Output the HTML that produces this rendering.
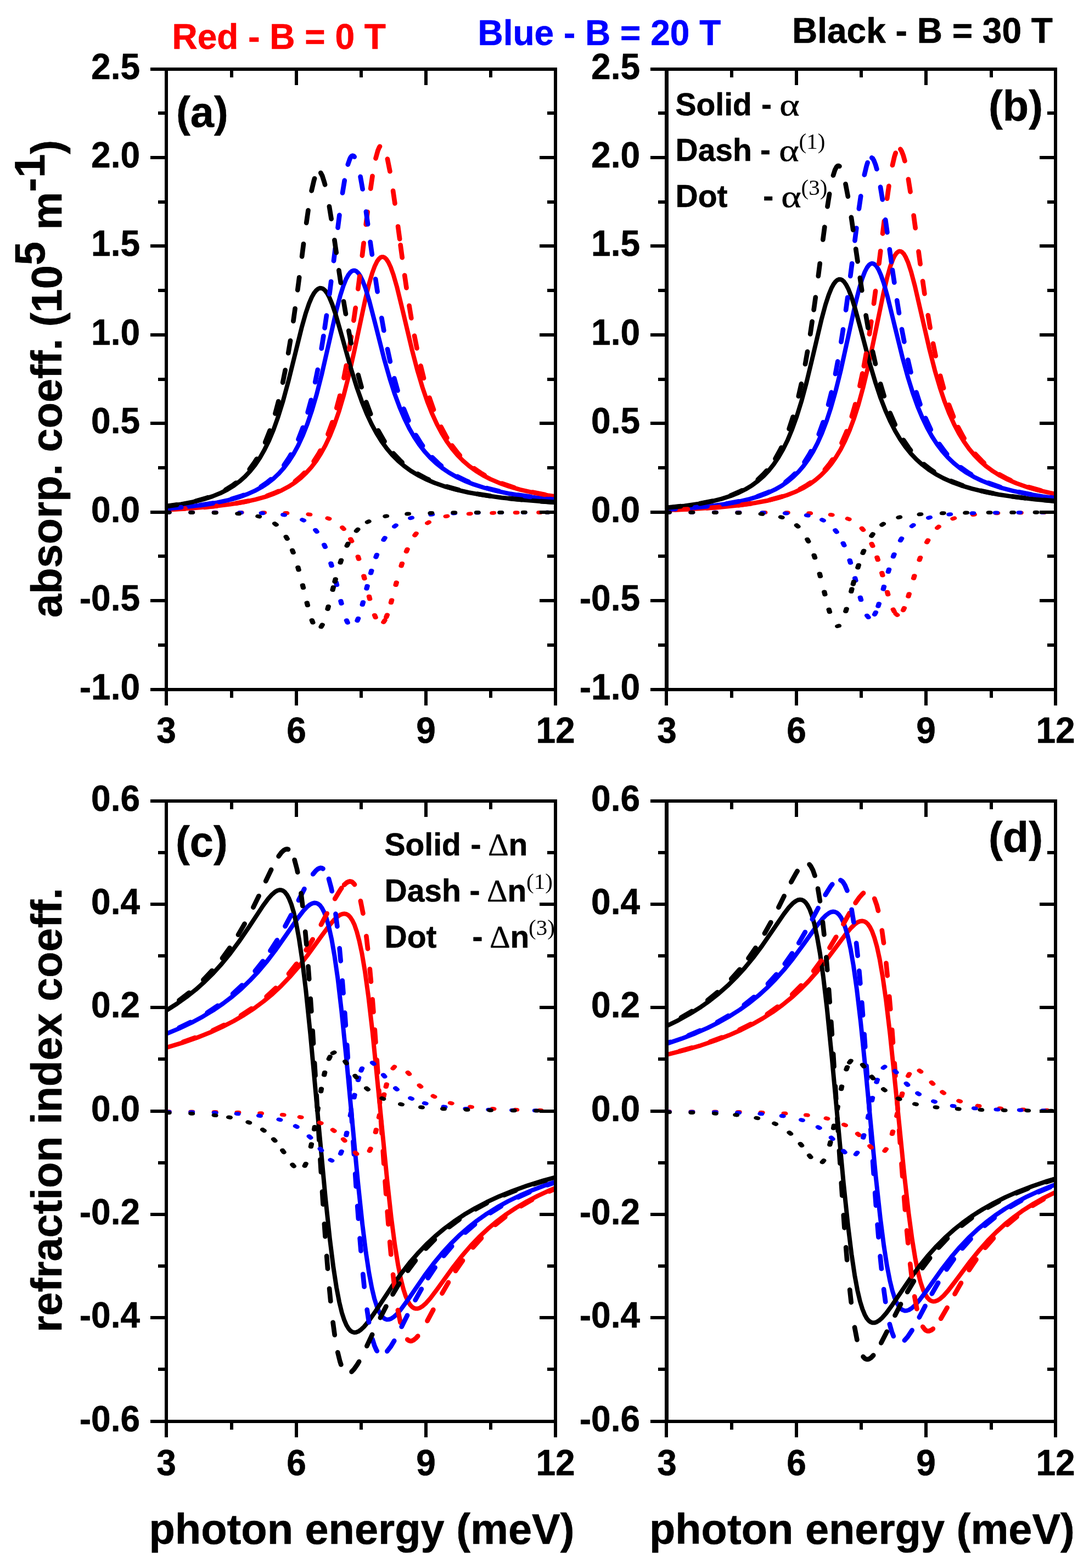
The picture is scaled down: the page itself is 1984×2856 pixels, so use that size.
<!DOCTYPE html>
<html lang="en"><head><meta charset="utf-8"><title>Absorption and refraction index coefficients</title>
<style>
html,body{margin:0;padding:0;background:#fff;}
body{width:1984px;height:2856px;overflow:hidden;}
svg{display:block;}
svg rect{shape-rendering:crispEdges;}
</style></head><body>
<svg width="1984" height="2856" viewBox="0 0 1984 2856">
<rect x="0" y="0" width="1984" height="2856" fill="#fff"/>
<g fill="none" stroke-width="8.0" stroke-linejoin="round">
<path d="M303 928.2L351.3 925.5L388.9 922.3L419.2 918.6L444.2 914.5L465.3 909.9L483.4 904.9L499.4 899.2L513.3 893.1L525.9 886.3L537.4 878.8L548 870.5L557.8 861.3L567.1 851.1L576 839.5L584.6 826.1L592.9 811.1L601.2 793.5L609.2 773.4L617.3 750L625.8 721.4L634.9 686.3L645.5 639.3L665.2 546.6L672.5 516.6L678.2 497.1L682.9 484.4L686.8 476.4L690.2 471.7L693.1 469L695.7 467.9L698.3 468L701 469.3L704 472.2L707.5 477.5L711.7 486.4L716.8 500.7L723.3 523.2L733.3 564.2L750.7 637.5L760.7 675.7L769.8 706L778.6 731.8L787.3 753.7L796 772.6L804.8 789.2L813.9 803.9L823.3 817L833.2 828.7L843.6 839.2L854.6 848.8L866.7 857.6L879.7 865.6L893.8 872.9L909.6 879.7L927.3 885.9L947.6 891.8L970.8 897.1L998 902.1L1012 904.2" stroke="#ff0000"/>
<path d="M303 926.2L340.4 923.1L370.6 919.5L395.4 915.4L416.2 910.9L434.2 905.9L449.9 900.3L463.9 894.2L476.5 887.3L487.9 879.8L498.4 871.6L508.2 862.3L517.5 851.9L526.3 840.2L534.8 826.9L543.1 811.7L551.3 793.9L559.6 773.1L567.9 748.8L576.6 719.4L586 682.6L599.4 624.2L612.6 566.3L619.9 538.5L625.6 520.5L630.3 508.7L634.5 501L638 496.3L641.2 493.7L643.9 492.7L646.7 492.8L649.4 494.1L652.6 497.1L656.3 502.5L660.7 511.4L666 525.5L672.7 547.6L683.5 589.2L699.6 652.8L709.9 689L719.1 717.7L728 741.7L736.9 762.5L745.7 780.5L754.8 796.2L764 810.1L773.7 822.5L783.7 833.5L794.4 843.5L805.8 852.6L818.2 861L831.8 868.8L846.8 875.9L863.5 882.4L882.4 888.5L904.1 894.1L929.1 899.3L958.4 904.1L993.5 908.4L1012 910.3" stroke="#0000ff"/>
<path d="M303 922.2L329.6 918.4L351.6 914.2L370.6 909.4L386.9 904.1L401.3 898.3L414.1 891.9L425.7 884.8L436.3 876.9L446.4 868L455.8 858L464.7 846.9L473.4 834.1L481.8 819.3L490.1 802.4L498.4 782.5L506.8 758.9L515.7 730.3L525.7 693.3L549.6 596.7L557.1 570.2L563 552.9L567.9 541.4L572.2 533.7L576.2 528.8L579.5 526.1L582.7 524.8L585.6 524.9L588.6 526L591.9 528.8L595.7 533.7L600 541.6L605.3 554.4L612 574.3L622.6 611.4L639.4 671.3L649.6 704.4L659.1 731.2L668.1 753.6L677 772.6L686.1 789.4L695.3 804.1L704.8 817.1L714.6 828.6L725.1 839.1L736.3 848.7L748.3 857.5L761.3 865.4L775.7 872.8L791.6 879.5L809.5 885.8L830 891.6L853.5 897L881 901.9L913.7 906.5L953.1 910.6L1001.6 914.4L1012 915.1" stroke="#000000"/>
</g>
<g fill="none" stroke-width="8.7" stroke-linejoin="round">
<path d="M314.5 927.6L337.5 926.3M372.4 923.8L395.3 921.5M430 916.8L452.5 912.5M486.3 903.3L501.9 897.3L507.6 894.8M537.6 876.8L548.7 867.3L554.7 861.4M571.7 840.4L580.6 826.3L583.6 820.8M597.5 790.8L605.4 769.2M613.3 743.1L619.2 720.8M626.5 688.4L630.9 665.9M636.2 636.2L639.9 613.5M644.4 583.7L647.7 560.9M652.3 526.2L655.2 503.4M659.9 465.6L662.6 442.8M666.7 408.9L669.6 386M675.2 343.5L678.5 320.8M684.5 288.4L688.4 274.3L690.9 268.6L692 266.8M705.9 289.6L710.4 312.1M716.1 347.6L719.4 370.4M725.1 412.5L728.2 435.3M729.6 446.3L732.7 469.1M737.2 501.6L740.5 524.3M745.5 556.8L749.3 579.4M755 611.7L759.5 634.3M766.5 666.4L772 688.7M782.4 724.5L790 746.2M803.5 777.5L812.3 794.1L814.4 797.7M823.5 811.6L833.7 824.9L837.8 829.6M863.6 853.2L877.5 862.6L882.9 865.8M914.5 880.6L934.3 887.4L936.3 888M970.2 896.6L992.8 900.9" stroke="#ff0000" stroke-linecap="round"/>
<path d="M307.4 925.9L330.3 924M365.1 920.1L387.8 916.6M422 909L439.9 903.3L443.9 901.9M475.3 886.6L487.3 878.2L493.8 873M517.4 847.3L526.7 833.4L529.9 828M543.5 800.3L551.8 778.9M560.7 751L566.7 728.8M574.2 696L578.8 673.5M585.7 634.7L589.4 612M591.6 597.4L594.9 574.7M600.3 535.6L603.2 512.8M608 475.1L610.8 452.3M615.5 414.7L618.4 391.9M624 351.4L627.7 328.7M633.8 299.7L637.2 289.8L639.1 286.1L640.5 284.5L642.3 283.6L644.3 284.2L645.7 285.6M656.6 321.9L660.6 344.5M666.9 385.5L670.1 408.3M674.6 440.8L677.8 463.5M684.2 508.4L687.6 531.2M695.3 579.3L699.3 601.9M705.9 636L710.8 658.5M718.3 689.1L724.5 711.3M735.6 744.7L744.3 766M757.7 792.7L767.7 808.7L770.1 812.1M787.2 833L799.2 844.5L804 848.6M833.2 867.9L850.1 876.1L853.9 877.7M887 889.1L909.3 894.8M943.7 901.5L966.4 904.9M1001.1 909.1L1010.2 910" stroke="#0000ff" stroke-linecap="round"/>
<path d="M304.8 921.9L322.4 919.4M356.8 912.6L376.9 906.9L378.9 906.2M410.9 892.2L423.3 884.5L430 879.5M454.7 854.8L464.4 841.2L467.8 835.9M483.2 805.7L491.6 784.3M501.4 753.3L507.3 731.1M515.2 696.7L519.7 674.1M525.2 643.2L529 620.5M534.4 584.8L537.6 562M542.2 528.2L545.2 505.3M550.1 467.2L553 444.3M558.2 405.9L561.5 383.2M567.6 347.4L571.9 329.1L573.1 325.1M584.3 314.9L587.2 320.4L591 332.4L592.1 336.4M599.9 376.1L603.6 398.8M609.4 437.3L612.7 460.1M617.4 492.4L620.8 515.1M626.1 549.1L629.9 571.8M635.3 602.5L639.6 625.1M652.6 682.9L658.6 705.1M667.2 732.5L675.2 754M689 784.2L698.3 800.5L700.5 804M716.7 825.9L728.2 838.1L732.7 842.4M760.8 863.1L775.5 871.1L781.2 873.8M813.9 886.3L836 892.5M870.2 899.7L892.9 903.4M927.7 907.9L950.5 910.2M985.4 913.1L1008.4 914.7" stroke="#000000" stroke-linecap="round"/>
</g>
<g fill="none" stroke-width="8.0" stroke-linejoin="round">
<path d="M1214.2 929.2L1270.1 926.6L1312.9 923.7L1346.7 920.2L1374.3 916.3L1397.4 912L1417.1 907.1L1434 901.8L1449 895.9L1462.4 889.5L1474.4 882.4L1485.4 874.5L1495.6 865.8L1505.3 856L1514.3 845.1L1523 832.8L1531.5 818.7L1539.7 802.4L1547.8 783.8L1555.9 762.1L1564 736.7L1572.4 706L1581.7 667.4L1593.5 611.7L1609.1 536L1616.4 505L1621.9 485.7L1626.4 473.3L1630.1 465.6L1633.5 460.8L1636.3 458.5L1638.8 457.6L1641.2 457.9L1643.7 459.4L1646.7 462.6L1650.2 468.6L1654.6 478.7L1659.9 495L1666.8 520.9L1679.4 575.7L1693.4 636.5L1703.2 674.8L1712.3 705.7L1720.9 731.4L1729.6 753.7L1738.3 772.8L1747.1 789.6L1756.2 804.4L1765.6 817.6L1775.5 829.4L1785.9 840L1797 849.6L1808.8 858.2L1821.8 866.3L1836 873.6L1851.7 880.3L1869.4 886.6L1889.5 892.4L1912.8 897.7L1923.2 899.8" stroke="#ff0000"/>
<path d="M1214.2 927.7L1258.9 924.9L1294 921.6L1322.3 917.9L1346 913.6L1366 908.9L1383.4 903.7L1398.5 898L1411.9 891.7L1424.1 884.7L1435.2 877L1445.4 868.5L1455.1 859L1464.1 848.4L1472.8 836.4L1481.3 822.6L1489.5 806.8L1497.6 788.6L1505.7 767.4L1513.9 742.2L1522.6 711.5L1532.1 673.2L1545.5 612.3L1558.3 553.7L1565.4 525.4L1570.9 507.3L1575.6 495L1579.5 487.5L1582.9 483L1585.8 480.7L1588.4 479.8L1591 480.1L1593.7 481.7L1596.9 485L1600.6 491.2L1604.9 500.9L1610.3 516.4L1617.3 541.6L1630.9 597.4L1644.3 651.8L1654.2 687.6L1663.2 716.5L1671.9 740.6L1680.6 761.4L1689.2 779.4L1698.1 795.2L1707.3 809.4L1716.8 821.8L1726.8 833.1L1737.5 843.4L1748.9 852.7L1761.1 861.1L1774.5 868.8L1789.3 875.9L1805.8 882.5L1824.3 888.6L1845.6 894.2L1870.2 899.4L1899.2 904.2L1923.2 907.4" stroke="#0000ff"/>
<path d="M1214.2 924.9L1246.9 921.5L1273.5 917.7L1295.7 913.4L1314.6 908.6L1331.2 903.3L1345.6 897.5L1358.6 891L1370.4 883.8L1381.2 875.8L1391.3 866.9L1400.7 856.9L1409.6 845.8L1418.2 833.1L1426.7 818.3L1435 801.4L1443.2 781.7L1451.5 758.6L1460.2 730.6L1469.6 695.6L1482.2 643.1L1496.6 582L1503.9 555L1509.8 536.9L1514.7 524.9L1518.9 517.3L1522.6 512.5L1525.8 509.9L1528.7 508.8L1531.5 508.9L1534.4 510.2L1537.6 513L1541.3 518.2L1545.7 526.6L1551 540.2L1557.7 561.3L1568.5 601.1L1584.8 662.7L1595.1 697.3L1604.3 724.9L1613.2 747.9L1622.1 767.8L1630.9 785L1640 800.2L1649.4 813.8L1659.3 825.9L1669.5 836.7L1680.4 846.4L1692 855.3L1704.6 863.4L1718.6 871L1733.9 877.9L1751.3 884.3L1770.8 890.2L1793.2 895.7L1819.4 900.8L1850.3 905.4L1887.4 909.7L1923.2 912.8" stroke="#000000"/>
</g>
<g fill="none" stroke-width="8.7" stroke-linejoin="round">
<path d="M1230 928.5L1253 927.5M1287.9 925.5L1310.9 923.7M1345.7 920.2L1368.5 917.1M1402.8 910.4L1423 904.9L1425 904.3M1457.3 891L1470 883.7L1476.9 879M1502.8 855.5L1511.9 844.1L1516.7 837.2M1533.5 806.8L1541.7 787.6L1542.5 785.6M1551.8 758.5L1558.2 736.4M1566.4 702.8L1571.2 680.3M1573.9 666.8L1578 644.2M1583.9 608.5L1587.3 585.8M1592 552.9L1595 530.1M1601.4 480.1L1604.2 457.3M1608.1 425.4L1610.9 402.6M1616.2 361.7L1619.4 338.9M1625.9 300.9L1629.7 284.6L1631.7 278.6M1640.4 271.7L1642.6 275.2L1645.6 283L1648.4 293.1M1654.9 326.6L1658.5 349.3M1664.6 392.5L1667.7 415.3M1673.5 458.1L1676.6 480.9M1681.1 512.2L1684.4 535M1690.7 574.3L1694.6 596.9M1700 625.8L1704.6 648.3M1713.1 684.6L1719.1 706.8M1728.8 737.4L1737 758.9M1745.6 778.2L1754.4 794.8L1756.6 798.4M1776.8 826.9L1788.3 839.1L1792.8 843.4M1820.9 864.2L1835.6 872.2L1841.2 874.9M1873.9 887.3L1896.1 893.5" stroke="#ff0000" stroke-linecap="round"/>
<path d="M1216 927.6L1230.9 926.8M1265.8 924.3L1288.7 922.1M1323.4 917.5L1346 913.3M1379.8 904.3L1395.4 898.4L1401.2 895.9M1431.2 878.1L1442.4 868.7L1448.4 862.8M1465.6 841.7L1474.5 827.5L1477.5 822M1491.8 790.9L1499.6 769.2M1509.1 737L1514.7 714.7M1522 681L1526.3 658.4M1532.4 622.7L1536 600M1541.1 564.6L1544.2 541.8M1549.3 502.8L1552.2 480M1557.4 438.3L1560.3 415.5M1564.9 380.2L1568.2 357.4M1574.8 318.4L1578.7 302.2L1580.6 296.2M1588.3 287.4L1589.9 288.6L1592.1 292.2L1595.1 300L1597.4 308M1604 340.7L1607.7 363.4M1613.2 400.4L1616.4 423.2M1620.7 454.3L1623.9 477.1M1625.9 491.8L1629.3 514.5M1634.2 547.4L1637.9 570.1M1643 599.8L1647.3 622.4M1654.2 655.5L1659.4 677.9M1669.4 714.7L1676.5 736.5M1686.2 761.6L1694.9 780.6L1695.8 782.5M1711.3 808.9L1721.2 822.4L1725.2 827.2M1750.4 851.4L1764.1 861L1769.4 864.3M1800.8 879.7L1820.5 886.7L1822.5 887.4M1856.4 896.2L1878.9 900.7M1913.5 906L1921.4 907" stroke="#0000ff" stroke-linecap="round"/>
<path d="M1217.3 924.5L1240.2 922.2M1274.8 917.2L1297.3 912.7M1330.8 902.7L1346.2 896.1L1351.8 893.3M1380.7 873.7L1391.3 863.5L1396.8 857.3M1412.5 835.5L1421.6 819.1L1423.5 815.3M1437.6 781.2L1444.7 759.3M1454.8 721.6L1459.9 699.2M1467 663.2L1471 640.5M1476.2 608.5L1479.6 585.7M1482.6 564.3L1485.8 541.5M1490.8 502.8L1493.7 480M1499.3 436.5L1502.3 413.7M1507.5 376.2L1511.1 353.4M1518 319.5L1521.2 309.5L1524.1 304L1525.6 302.5L1527.6 302L1529.4 302.9M1540.5 335.2L1544.8 357.8M1550.9 395.9L1554.2 418.7M1559.2 453.5L1562.5 476.2M1566.8 506.1L1570.2 528.9M1577.6 574.6L1581.5 597.3M1589.9 640.3L1594.9 662.7M1604.1 699.3L1610.7 721.4M1621.6 752.4L1630.7 773.5M1645.9 801.5L1655.3 815.3L1659.1 820.3M1683.2 845.6L1696.4 855.9L1701.5 859.4M1732.3 876L1749.8 882.9L1753.8 884.3M1787.4 893.9L1809.9 898.7M1844.4 904.3L1867.3 907.3M1902.1 910.9L1921.4 912.6" stroke="#000000" stroke-linecap="round"/>
</g>
<g fill="none" stroke-width="8.0" stroke-linejoin="round">
<path d="M303 1908.2L332.1 1899.4L358.5 1890.2L382.8 1880.5L405 1870.4L425.7 1859.8L445 1848.5L463.1 1836.6L480.2 1823.9L496.6 1810.3L512.4 1795.6L527.7 1779.6L543.3 1761.7L559.8 1740.6L584.8 1706.1L599.8 1685.9L608.5 1675.7L614.8 1669.8L619.9 1666.3L624 1664.7L627.8 1664.3L631.1 1665L634.5 1666.9L638 1670.5L641.7 1676.1L645.7 1684.3L650 1696.7L654.5 1713.6L659.5 1737L665 1769.9L671.3 1815.9L678.8 1881L689.8 1991.1L705 2146.4L712.8 2217.6L719.3 2267.4L725.1 2303.4L730.2 2329.3L734.9 2348L739.2 2361.2L743.4 2370.5L747.1 2376.5L750.7 2380.4L754 2382.6L757.4 2383.6L760.9 2383.5L765 2382.2L770 2379.1L776.1 2373.7L784.1 2364.6L796.9 2347.7L825.5 2308.2L842 2287.1L857.6 2269L873 2253L888.7 2238.3L905.1 2224.6L922.2 2211.8L940.3 2199.9L959.6 2188.5L980.3 2177.9L1002.5 2167.7L1012 2163.8" stroke="#ff0000"/>
<path d="M303 1883L326.8 1873.1L348.9 1862.7L369.4 1851.7L388.5 1840.1L406.4 1827.9L423.3 1815L439.5 1801.1L455 1786.2L470.4 1769.9L485.8 1751.7L501.7 1730.9L521.4 1702.9L543.3 1671.2L552.7 1659L559.6 1651.7L564.9 1647.5L569.3 1645.3L573 1644.5L576.4 1644.9L579.7 1646.4L583.1 1649.2L586.6 1653.9L590.5 1661.4L594.7 1672.3L599.2 1688.1L604.1 1710.3L609.4 1740.8L615.4 1782.5L622.2 1841.1L631.3 1931L652 2152.4L660.1 2228.8L666.6 2280.9L672.3 2318.6L677.4 2345.8L682.1 2365.5L686.5 2379.4L690.6 2389.3L694.3 2395.7L697.9 2399.8L701.2 2402.2L704.6 2403.4L708.1 2403.3L712.1 2402.1L716.8 2399.2L722.7 2393.9L730.4 2385L742 2369.2L773.5 2323.5L790 2301.4L805.4 2282.8L820.8 2265.9L836.3 2250.6L852.5 2236.4L869.2 2223.2L886.9 2210.8L905.7 2199.1L925.7 2188L947.4 2177.5L970.8 2167.4L996.2 2157.8L1012 2152.5" stroke="#0000ff"/>
<path d="M303 1840.5L321.9 1828.5L339.8 1815.8L356.8 1802.4L372.9 1788L388.7 1772.4L404 1755.5L419.4 1736.7L435.3 1715.2L454.1 1687.7L479.1 1649.9L488.7 1636.9L495.6 1629.2L501.1 1624.5L505.5 1622L509.2 1621L512.5 1621.2L515.9 1622.5L519.2 1625.2L522.8 1629.7L526.5 1636.5L530.7 1646.9L535 1661.5L539.7 1682L544.8 1710.1L550.6 1749L557.3 1804.2L565.5 1884.4L581.1 2054.8L592.9 2181.7L600.8 2256L607.3 2307.7L613 2344.9L618.1 2371.6L622.8 2390.9L627.2 2404.4L631.1 2413.5L634.9 2419.8L638.4 2423.8L641.7 2426L645.1 2427L648.6 2426.8L652.6 2425.3L657.3 2422.2L663.2 2416.6L670.9 2407.4L682.5 2390.9L714.4 2342.7L731 2319.6L746.3 2300L761.7 2282.3L777.2 2266.2L793.2 2251.4L809.7 2237.6L827.3 2224.6L845.8 2212.3L865.5 2200.7L886.5 2189.7L909.2 2179.2L933.8 2169.2L960.6 2159.6L989.9 2150.4L1012 2144.3" stroke="#000000"/>
</g>
<g fill="none" stroke-width="8.7" stroke-linejoin="round">
<path d="M333.7 1897.9L355.4 1890.2M387.8 1876.9L408.5 1867M439 1849.7L458.1 1837M485.6 1815.3L502.4 1799.7M526 1773.8L540.2 1755.7M557.6 1730.6L569.7 1711M584.9 1684.2L595.7 1663.9M610.2 1637.1L619.9 1621L622.3 1617.6M627.1 1611.6L631.8 1607.5L635.6 1605.7L637.7 1605.4L639.7 1605.8L641.6 1606.6L644.7 1609.4L646 1611.1M656.9 1641.1L661.4 1663.7M667.4 1705.2L670 1728.1M673.8 1765.1L675.9 1788M678.6 1820.3L680.4 1843.2M682.8 1875.5L684.4 1898.5M686.7 1930.7L688.3 1953.7M690.4 1986L692 2008.9M694.1 2041.2L695.6 2064.2M697.8 2096.5L699.3 2119.4M701.6 2151.7L703.3 2174.7M705.7 2206.9L707.5 2229.9M710.2 2262.1L712.3 2285M716.1 2321.6L718.8 2344.5M724.9 2386.3L729.5 2408.8M742.3 2439.8L743.9 2441.1L745.8 2442.1L747.8 2442.6L749.9 2442.4L753.7 2440.8L758.5 2436.7L761.2 2433.6M778.5 2405.9L789.3 2385.6M805.5 2355.7L816.9 2335.8M829.9 2314.9L843 2296M861.7 2272.1L877 2255M902.4 2230.9L920.3 2216.5M949.3 2196.8L969.2 2185.3M1000.6 2170L1010.3 2165.8" stroke="#ff0000" stroke-linecap="round"/>
<path d="M326.4 1871.8L347.1 1861.8M377.5 1844.5L396.6 1831.8M424.1 1810.1L441 1794.5M464.7 1768.8L479 1750.8M492.5 1731.7L504.9 1712.4M519.5 1687.1L530.3 1666.8M544 1639.8L554.4 1619.2M570.2 1592.1L575.6 1585.7L578.8 1583L582.5 1581.2L584.6 1580.9L586.6 1581.3L588.5 1582.3M599 1600.9L603.4 1617L604.7 1623.2M611.5 1664.6L614.4 1687.4M618.6 1727.4L620.7 1750.3M623.7 1786L625.5 1808.9M628.2 1844.7L629.8 1867.6M632.2 1903.3L633.7 1926.3M636 1962L637.5 1985M639.7 2020.7L641.2 2043.7M643.4 2079.4L644.9 2102.4M647.2 2138.1L648.7 2161.1M651.2 2196.8L652.9 2219.7M655.6 2255.5L657.5 2278.4M661.3 2320.8L663.6 2343.7M668.7 2385.6L672.1 2408.4M678.5 2439.3L682.3 2451.3L685.7 2458.9L686.8 2460.7M705.3 2461.2L711.7 2452.9L718.2 2442.2M731.7 2416.5L742 2395.9M756.6 2368L767.8 2347.9M779.8 2327.9L792.6 2308.7M808.4 2287.5L823.2 2270M847.7 2245L865.1 2230M893.3 2209.3L912.9 2197.1M943.8 2180.7L964.7 2171.2M997.3 2158.5L1010.3 2154" stroke="#0000ff" stroke-linecap="round"/>
<path d="M326.3 1822.3L344.5 1808.3M370.4 1784.8L386.2 1768M405 1745.2L418.5 1726.6M434 1702.6L445.6 1682.7M461.4 1652.7L471.5 1632M484.2 1604.9L494.1 1584.2M507.6 1559.6L512.6 1552.9L517.1 1548.6L520.9 1546.8L522.9 1546.6L525 1547.1M536.6 1566.3L540.9 1582.5L542.2 1588.6M548.5 1627.1L551.3 1650M556.2 1697.2L558.3 1720.1M561.5 1760.4L563.2 1783.3M565.7 1819L567.3 1841.9M569.6 1877.6L571 1900.5M573.1 1936.2L574.5 1959.1M576.6 1994.8L578 2017.8M580.1 2053.4L581.4 2076.4M583.5 2112L584.9 2135M587.1 2170.7L588.6 2193.6M590.9 2229.3L592.5 2252.2M595.2 2287.8L597 2310.8M600.1 2347.1L602.3 2370M606.6 2408.7L609.7 2431.5M615.3 2463.3L619.3 2479.5L621.3 2485.5M640.6 2498.6L644.9 2494.1L650.9 2485.5L654.1 2480.1M668.4 2451.7L678.1 2430.9M692.9 2400.1L703.4 2379.6M715.5 2357.5L727.3 2337.8M743.1 2314.4L756.9 2296M775.8 2274.1L791.9 2257.7M818.4 2234.8L836.9 2221.1M866.4 2202.4L886.7 2191.5M918.4 2176.7L939.7 2168.1M972.8 2156.6L994.7 2149.8" stroke="#000000" stroke-linecap="round"/>
</g>
<g fill="none" stroke-width="8.0" stroke-linejoin="round">
<path d="M1214.2 1921.1L1246.9 1912.9L1276.4 1904.3L1303.2 1895.3L1327.6 1885.8L1350.1 1876L1371 1865.5L1390.3 1854.5L1408.4 1842.9L1425.5 1830.5L1441.9 1817.2L1457.6 1802.9L1473.2 1787.1L1488.7 1769.5L1505.5 1748.7L1541.1 1701.1L1550.6 1690L1557.3 1683.6L1562.6 1679.8L1566.9 1678L1570.7 1677.5L1574.2 1678.1L1577.6 1679.8L1581.1 1683.1L1584.8 1688.4L1588.8 1696.3L1593.1 1708.1L1597.7 1724.3L1602.6 1746.9L1608.1 1778.7L1614.2 1821.8L1621.5 1883.2L1632.1 1986.3L1647.5 2140L1655.4 2209.6L1661.9 2258.2L1667.6 2293.1L1672.7 2318.2L1677.4 2336.4L1681.7 2349L1685.7 2357.7L1689.4 2363.5L1693 2367.3L1696.3 2369.5L1699.9 2370.5L1703.6 2370.3L1707.7 2368.8L1712.9 2365.6L1719.2 2360L1727.6 2350.5L1741.8 2332L1767.8 2297.2L1784.4 2276.8L1799.9 2259.4L1815.5 2243.7L1831.2 2229.5L1847.6 2216.4L1864.7 2204.1L1883 2192.5L1902.5 2181.5L1923.2 2171.3" stroke="#ff0000"/>
<path d="M1214.2 1901.1L1241.4 1891.9L1266.2 1882.4L1289 1872.3L1310.1 1861.8L1329.8 1850.7L1348.1 1839L1365.5 1826.5L1382 1813.2L1397.8 1798.9L1413.1 1783.4L1428.5 1766.2L1444.4 1746.5L1463.1 1721.1L1488 1686.4L1497.6 1674.4L1504.5 1667.4L1509.8 1663.3L1514.1 1661.2L1517.9 1660.5L1521.4 1661L1524.8 1662.6L1528.3 1665.7L1532.1 1670.8L1536 1678.6L1540.1 1689.8L1544.7 1705.8L1549.6 1728.3L1554.9 1758.9L1561 1802.2L1568.1 1862.4L1577.8 1957.6L1595.7 2144.3L1603.8 2218.6L1610.3 2269.2L1616 2305.8L1621.1 2332.1L1625.8 2351.1L1630.1 2364.5L1634.3 2374L1638 2380.1L1641.6 2384.1L1644.9 2386.3L1648.3 2387.4L1651.8 2387.3L1655.9 2386L1660.9 2382.9L1667 2377.4L1675.1 2368.2L1687.7 2351.4L1716.6 2310.9L1733.1 2289.6L1748.7 2271.4L1764.1 2255.2L1779.8 2240.3L1796 2226.7L1812.9 2213.9L1830.8 2201.9L1849.9 2190.6L1870.4 2179.8L1892.5 2169.6L1916.5 2159.9L1923.2 2157.4" stroke="#0000ff"/>
<path d="M1214.2 1868.8L1235.9 1858.3L1256 1847.1L1274.9 1835.4L1292.6 1822.9L1309.5 1809.6L1325.7 1795.3L1341.2 1780L1356.6 1763.2L1372 1744.5L1388.1 1723L1409.6 1691.8L1428.1 1664.8L1437.3 1652.8L1444 1645.7L1449.4 1641.5L1453.7 1639.3L1457.4 1638.6L1460.8 1639L1464.1 1640.6L1467.5 1643.5L1471 1648.3L1475 1655.9L1479.1 1667L1483.6 1683L1488.5 1705.5L1493.9 1736.3L1499.8 1778.4L1506.7 1837.5L1515.7 1927.9L1536.8 2154.9L1544.9 2231.9L1551.4 2284.5L1557.1 2322.7L1562.2 2350.3L1566.9 2370.4L1571.3 2384.5L1575.4 2394.6L1579.1 2401.2L1582.7 2405.5L1586 2408L1589.4 2409.3L1592.9 2409.3L1596.9 2408.1L1601.6 2405.2L1607.3 2400.2L1614.8 2391.6L1625.8 2376.6L1658.9 2328.1L1675.2 2306L1690.6 2287.1L1706 2270L1721.5 2254.5L1737.5 2240.2L1754.2 2226.8L1771.7 2214.3L1790.5 2202.5L1810.4 2191.3L1831.8 2180.6L1855.1 2170.4L1880.3 2160.7L1907.8 2151.4L1923.2 2146.8" stroke="#000000"/>
</g>
<g fill="none" stroke-width="8.7" stroke-linejoin="round">
<path d="M1238.1 1914.6L1260.3 1908.4M1293.6 1897.7L1315.2 1889.7M1347.3 1875.7L1367.8 1865.3M1397.7 1847.3L1416.5 1833.9M1443.2 1811.3L1459.4 1795.1M1482.2 1768.5L1495.8 1750M1511.5 1726.3L1523.3 1706.6M1536.5 1683.2L1547.7 1663.1M1558.6 1644.6L1565.8 1634.3L1571.4 1628.1L1573 1626.7M1593.2 1636.9L1597.4 1648.7L1600 1658.8M1606.8 1694.7L1610 1717.5M1614.4 1754.3L1616.7 1777.1M1620.2 1815L1622.2 1838M1625.2 1875.9L1626.9 1898.8M1629.7 1936.8L1631.3 1959.7M1634 1997.7L1635.6 2020.7M1638.2 2058.6L1639.8 2081.6M1642.5 2119.6L1644.2 2142.5M1647.1 2180.4L1648.9 2203.4M1652.1 2241.3L1654.3 2264.2M1658.2 2302.1L1660.9 2324.9M1666.2 2361.5L1670.4 2384.1M1681.2 2416.7L1685 2421.7L1686.6 2423L1688.4 2424L1690.5 2424.5L1692.5 2424.4L1696.4 2422.9L1699.8 2420.4M1714.1 2401.7L1725.6 2381.9M1739.5 2356.9L1750.9 2336.9M1765.6 2313.2L1778.5 2294.2M1794.9 2272.7L1809.9 2255.4M1834.9 2230.8L1852.6 2216.1M1881.2 2196L1901 2184.3" stroke="#ff0000" stroke-linecap="round"/>
<path d="M1215.9 1899.7L1221.4 1897.9M1254.3 1886L1275.5 1877.1M1306.9 1861.7L1326.8 1850.2M1355.7 1830.5L1373.6 1816.1M1399 1792L1414.4 1774.9M1429.8 1755.4L1443.1 1736.6M1455.3 1717.6L1466.9 1697.8M1479.8 1674.3L1490.6 1654M1503.7 1629.9L1512.5 1615.7L1516.3 1610.7M1531.4 1603.2L1533.2 1604.2L1536.2 1607.2L1539.4 1612.5L1543.4 1622.2M1551.6 1656.9L1555.3 1679.6M1560.1 1717.9L1562.6 1740.8M1565.3 1768.4L1567.3 1791.3M1570.2 1826.1L1572 1849.1M1574.6 1883.9L1576.2 1906.8M1578.6 1941.6L1580.1 1964.6M1582.4 1999.4L1584 2022.4M1586.3 2057.2L1587.8 2080.1M1590.1 2115L1591.7 2137.9M1594.2 2172.7L1595.9 2195.7M1598.6 2230.5L1600.5 2253.4M1603.6 2288.2L1605.9 2311M1610.1 2348.3L1613.2 2371.1M1620.8 2411.9L1624.8 2426L1627.8 2433.8M1647.9 2441.3L1653.5 2435.1L1660.5 2424.7L1661.6 2422.9M1674.8 2399.3L1685.5 2378.9M1697.8 2356.4L1709.2 2336.5M1724.5 2312.2L1737.7 2293.4M1753.2 2273.8L1768.5 2256.7M1793.8 2232.5L1811.7 2218.1M1840.6 2198.3L1860.5 2186.8M1891.9 2171.3L1913 2162.3" stroke="#0000ff" stroke-linecap="round"/>
<path d="M1240.8 1853.6L1260.6 1841.9M1289.3 1821.9L1307.1 1807.3M1332.3 1783L1347.5 1765.8M1363.5 1745.4L1376.6 1726.6M1393 1700.1L1404.3 1680M1418.4 1652.7L1428.6 1632.1M1441.3 1606.6L1450.5 1590.2L1452.7 1586.6M1474.6 1574.5L1477.2 1577.7L1481.1 1585.1L1484.5 1595M1490.1 1618.6L1493.9 1641.3M1498.9 1679.5L1501.4 1702.3M1505.3 1743.7L1507.2 1766.6M1510 1802.3L1511.7 1825.2M1514.2 1861L1515.8 1883.9M1518.1 1919.7L1519.5 1942.7M1521.8 1978.4L1523.2 2001.4M1525.4 2037.2L1526.8 2060.1M1529 2095.9L1530.5 2118.9M1532.8 2154.6L1534.3 2177.6M1536.8 2213.3L1538.4 2236.3M1541.2 2272L1543.1 2294.9M1548.2 2349.3L1550.7 2372.1M1557 2417.7L1561.4 2440.3M1572.6 2471.2L1575.4 2474.2L1577.2 2475.3L1579.2 2475.9L1581.3 2475.9L1583.3 2475.3L1586.8 2473.1L1591.2 2468.6M1605.3 2446.1L1615.8 2425.6M1630.5 2395.9L1641 2375.4M1653.1 2353.2L1664.9 2333.4M1680.5 2309.7L1694.2 2291.3M1710.2 2272.3L1726 2255.6M1752.1 2232.3L1770.4 2218.3M1799.8 2199.3L1819.9 2188.2M1851.5 2173.3L1872.8 2164.6M1905.8 2153L1921.5 2148.1" stroke="#000000" stroke-linecap="round"/>
</g>
<g fill="none" stroke-width="6.9" stroke-linejoin="round" transform="scale(1.36,1)">
<path d="M224.56 933.2L226.47 933.2M255.81 933.2L257.72 933.2M287.06 933.3L288.97 933.3M321.61 933.4L323.53 933.4M352.02 933.7L353.94 933.7M382.43 934.4L384.35 934.5M413.27 936.8L415.2 937.1M439 943.9L441.01 944.9M458.55 960.7L460.54 963.6M469.62 981.7L471.2 985.9M479.54 1013.7L480.7 1018.3M487.32 1049L488.28 1053.9M494.43 1086.2L495.37 1091.1M501.79 1120.3L503.1 1124.8M513.8 1133.4L515.56 1129.6M517.4 1124.3L518.7 1119.8M523.79 1097.8L524.79 1092.9M530.18 1065.6L531.15 1060.8M537.5 1030.9L538.61 1026.2M544.33 1004.7L545.69 1000.3M555.67 975.1L557.53 971.6M572.5 952.8L574.57 951.1M597.18 940.6L599.12 940.1M628.24 935.9L630.16 935.8M659.47 934.4L661.39 934.3M690.72 933.8L692.63 933.8M721.97 933.5L723.88 933.5" stroke="#ff0000" stroke-linecap="round"/>
<path d="M224.56 933.2L226.47 933.2M255.81 933.3L257.72 933.3M287.06 933.4L288.97 933.4M321.03 933.8L322.95 933.8M350.14 934.7L352.05 934.8M379.24 937.6L381.17 938M404.95 946.7L407 948M422.54 965.3L424.44 968.6M434.24 992.1L435.63 996.5M443.25 1025.9L444.3 1030.7M450.27 1060.8L451.18 1065.7M456.49 1094.6L457.42 1099.4M464.25 1129.9L465.65 1134.3M478.59 1130.7L479.88 1126.2M485.43 1101.5L486.4 1096.7M491.1 1072.2L492.03 1067.3M496.7 1044.1L497.73 1039.3M503.55 1014.9L504.79 1010.3M513.9 983.4L515.6 979.6M528.33 959.1L530.41 956.8M549.81 943.8L551.78 943.1M577.2 937.3L579.12 937.1M607.33 935L609.24 934.9M638.57 934L640.48 934M669.82 933.6L671.73 933.6M701.07 933.4L702.98 933.4M732.32 933.3L734.23 933.3" stroke="#0000ff" stroke-linecap="round"/>
<path d="M224.56 933.3L226.47 933.3M255.81 933.5L257.72 933.5M287.06 934L288.97 934M318.28 935.6L320.19 935.7M345.48 940.3L347.44 940.9M368.01 953.6L370.08 955.8M383.13 977.5L384.78 981.5M391.59 1002.1L392.84 1006.6M399.11 1033.3L400.1 1038.1M405.39 1065.8L406.28 1070.7M411.17 1097.8L412.09 1102.7M417.82 1129.5L419.09 1134.1M430.16 1141.9L431.81 1137.9M438.94 1109.4L439.92 1104.5M445.63 1074.5L446.56 1069.6M448.51 1059.5L449.47 1054.7M455.95 1024.9L457.1 1020.2M464.75 994.2L466.27 990M477.4 967.1L479.4 964.1M492.13 951L494.19 949.6M516.08 940.4L518.02 939.9M545.49 936L547.41 935.9M576.48 934.5L578.4 934.4M607.33 933.8L609.24 933.8M638.58 933.5L640.49 933.5M669.83 933.4L671.74 933.4M701.08 933.3L702.99 933.3M732.33 933.3L734.24 933.3" stroke="#000000" stroke-linecap="round"/>
<path d="M894.56 933.2L896.47 933.2M925.81 933.2L927.72 933.2M957.06 933.2L958.97 933.2M988.31 933.3L990.22 933.3M1022.89 933.4L1024.8 933.4M1053.3 933.8L1055.22 933.8M1083.71 934.7L1085.63 934.8M1112.81 937.5L1114.74 937.9M1135.5 944.7L1137.52 945.8M1154.48 962.2L1156.45 965.3M1167.64 990.3L1169.08 994.6M1174.88 1015.1L1176.04 1019.8M1181.33 1043.3L1182.34 1048.1M1188.57 1078.2L1189.6 1083M1196.44 1109.9L1198 1114.1M1199.99 1118L1202.09 1120.3M1209.9 1111.7L1211.36 1107.4M1216.78 1086.4L1217.85 1081.7M1223.9 1053.5L1224.93 1048.7M1231.63 1020.1L1232.85 1015.4M1241.57 987.9L1243.19 983.9M1255.55 961.6L1257.6 959.1M1276.42 944.8L1278.41 943.9M1303.39 937.5L1305.31 937.3M1334.58 934.9L1336.5 934.8M1365.83 934L1367.74 934M1397.07 933.6L1398.99 933.6" stroke="#ff0000" stroke-linecap="round"/>
<path d="M894.56 933.2L896.47 933.2M925.81 933.2L927.72 933.2M957.06 933.3L958.97 933.3M988.31 933.4L990.22 933.4M1021.16 933.8L1023.07 933.9M1051.85 935L1053.77 935.1M1080.51 938.6L1082.45 939M1101.16 946.7L1103.21 948.1M1118.9 965.7L1120.79 969.1M1129.41 989.2L1130.86 993.5M1138.27 1020.4L1139.38 1025.2M1145.29 1052.8L1146.27 1057.7M1152.37 1088L1153.39 1092.8M1161.4 1121.1L1163.33 1124.5M1171.62 1119.4L1173.16 1115.3M1176.33 1104.2L1177.48 1099.5M1183.22 1073.2L1184.22 1068.3M1189.85 1041.7L1190.92 1037M1196.56 1014L1197.83 1009.5M1206.21 984.6L1207.89 980.7M1221.5 958.5L1223.58 956.3M1243.85 943.2L1245.82 942.4M1271.24 937L1273.16 936.8M1302.24 934.8L1304.15 934.7M1333.48 933.9L1335.39 933.9M1364.73 933.6L1366.64 933.6M1395.98 933.4L1397.89 933.4" stroke="#0000ff" stroke-linecap="round"/>
<path d="M894.56 933.2L896.47 933.2M925.81 933.3L927.72 933.3M957.06 933.6L958.97 933.6M988.3 934.2L990.22 934.2M1019.27 936.1L1021.19 936.3M1045.88 941.7L1047.86 942.5M1067.12 956.7L1069.17 959.2M1081.42 982.2L1082.98 986.4M1090.45 1011.2L1091.62 1015.9M1097.95 1044.9L1098.9 1049.8M1104.2 1078L1105.11 1082.9M1110.37 1110L1111.41 1114.7M1121.88 1140.6L1123.83 1139.8M1132.94 1113.6L1133.99 1108.9M1140.24 1077.6L1141.18 1072.7M1142.84 1064.2L1143.8 1059.3M1149.15 1033.9L1150.24 1029.2M1155.84 1007.5L1157.17 1003M1167.46 976.3L1169.31 972.7M1181.39 956.1L1183.47 954.1M1203.59 942.5L1205.56 941.9M1231.71 936.8L1233.63 936.6M1262.12 934.8L1264.03 934.7M1293.26 934L1295.17 933.9M1324.51 933.6L1326.42 933.6M1355.76 933.4L1357.67 933.4M1387.01 933.3L1388.92 933.3" stroke="#000000" stroke-linecap="round"/>
<path d="M224.56 2024.7L226.47 2024.7M255.81 2025L257.72 2025M287.06 2025.5L288.97 2025.5M317.7 2026.3L319.62 2026.3M348.4 2027.7L350.32 2027.8M378.23 2030.4L380.15 2030.7M401.68 2034.6L403.62 2035.1M428.14 2044.7L430.16 2045.8M445.77 2057.9L447.85 2060M459.86 2074.9L461.86 2077.8M475.79 2099.2L477.83 2101.9M495.02 2096.4L496.46 2092M503.14 2062.5L504.02 2057.6M507.68 2035.6L508.47 2030.7M513.74 1997.9L514.58 1992.9M517.01 1979.6L517.98 1974.8M526.4 1946.1L528.38 1943M546.33 1953.4L548.3 1956.4M561.8 1976.8L563.84 1979.4M580.17 1996.2L582.24 1997.7M603.24 2009L605.22 2009.7M629.91 2016L631.84 2016.3M659.75 2019.5L661.66 2019.7M690.45 2021.3L692.36 2021.4M723.03 2022.3L724.94 2022.4" stroke="#ff0000" stroke-linecap="round"/>
<path d="M224.56 2025.2L226.47 2025.2M255.81 2025.8L257.72 2025.8M287.05 2026.8L288.96 2026.9M317.12 2028.6L319.04 2028.8M346.8 2032.2L348.73 2032.5M373.57 2039.1L375.54 2039.8M395.82 2051L397.89 2052.6M414.08 2069.6L416.11 2072.3M428.77 2092.2L430.69 2095.5M442.63 2112.7L444.69 2114.1M456.26 2101.5L457.6 2097.1M463.77 2067.8L464.61 2062.9M469.33 2032.2L470.06 2027.2M474.24 1999.1L475.01 1994.1M479.64 1967.5L480.63 1962.7M483.66 1950.2L485.03 1945.8M498.76 1935.6L500.83 1937.8M513.48 1957.8L515.41 1961M529.78 1982L531.85 1984.4M549.78 2000.1L551.82 2001.4M568.64 2009.4L570.6 2010M594.29 2015.8L596.21 2016.2M623.55 2019.4L625.46 2019.5M654.39 2021.2L656.3 2021.3M685.82 2022.2L687.73 2022.3M716.52 2022.8L718.43 2022.8" stroke="#0000ff" stroke-linecap="round"/>
<path d="M224.56 2026.6L226.47 2026.7M255.78 2028.2L257.7 2028.3M286.94 2031.3L288.86 2031.6M306.39 2034.9L308.33 2035.4M332.28 2043.9L334.29 2045M351.79 2057.5L353.87 2059.5M366.46 2074.9L368.45 2077.9M378.42 2095.2L380.25 2098.8M391.7 2121.1L393.65 2124.3M408.22 2123.7L409.75 2119.5M416.44 2088.7L417.24 2083.8M421 2057.4L421.66 2052.4M425.36 2023L425.99 2018M429.83 1988L430.51 1983M434.24 1958.1L435.08 1953.2M440.6 1928.9L442.11 1924.6M445.69 1918.3L447.76 1916.9M462.27 1933.3L464.09 1936.9M475.56 1959.3L477.46 1962.6M490.83 1982.1L492.9 1984.5M511.69 2000.4L513.73 2001.6M536.5 2011.1L538.45 2011.7M563.73 2016.7L565.66 2017M593.14 2019.7L595.05 2019.8M624.42 2021.3L626.33 2021.4M655.7 2022.2L657.61 2022.3M687.12 2022.8L689.03 2022.8M718.11 2023.1L720.02 2023.1" stroke="#000000" stroke-linecap="round"/>
<path d="M894.56 2024.5L896.47 2024.5M925.81 2024.7L927.72 2024.7M957.06 2025L958.97 2025M988.57 2025.5L990.48 2025.5M1019.42 2026.3L1021.33 2026.4M1050.12 2027.9L1052.03 2028M1079.8 2030.9L1081.72 2031.2M1106.71 2036.9L1108.67 2037.5M1130.56 2048.3L1132.61 2049.7M1148.8 2065L1150.86 2067.5M1165.19 2087.3L1167.22 2090.1M1185.2 2096.3L1187.07 2092.9M1195.09 2065.6L1196.09 2060.8M1201.25 2033L1202.11 2028.1M1207.73 1996.4L1208.67 1991.5M1216.54 1960L1218.16 1956M1231.61 1950L1233.69 1952M1247.88 1971.4L1249.9 1974.2M1262.33 1989L1264.42 1991.1M1284.38 2005.2L1286.38 2006.2M1309.75 2014.1L1311.69 2014.5M1339.02 2018.7L1340.93 2018.9M1369.57 2020.9L1371.49 2021M1401 2022.1L1402.91 2022.2" stroke="#ff0000" stroke-linecap="round"/>
<path d="M894.56 2024.8L896.47 2024.9M925.81 2025.2L927.72 2025.2M957.05 2025.8L958.97 2025.8M987.99 2026.8L989.91 2026.9M1018.4 2028.7L1020.32 2028.9M1047.36 2032.5L1049.29 2032.9M1073.25 2039.7L1075.23 2040.5M1095.79 2052.8L1097.87 2054.6M1113.49 2071.9L1115.51 2074.7M1129.72 2096.1L1131.74 2098.9M1146.52 2102.6L1148.42 2099.3M1156.29 2072.2L1157.27 2067.4M1162.75 2036.3L1163.56 2031.4M1167.96 2004.4L1168.79 1999.4M1174.2 1971.2L1175.31 1966.5M1183.17 1945.1L1185.26 1942.9M1198.78 1950.5L1200.79 1953.4M1213.99 1973.3L1216.02 1976.1M1229.17 1991.2L1231.25 1993.1M1250.5 2005.8L1252.49 2006.8M1276.01 2014.3L1277.95 2014.7M1304.84 2018.7L1306.76 2018.9M1334.67 2020.9L1336.59 2021M1365.81 2022L1367.72 2022.1M1396.8 2022.7L1398.71 2022.7" stroke="#0000ff" stroke-linecap="round"/>
<path d="M894.56 2025.6L896.47 2025.7M925.8 2026.5L927.71 2026.5M957.03 2028L958.94 2028.2M985.24 2030.7L987.16 2031M1013.17 2036.2L1015.12 2036.8M1037.31 2046.2L1039.35 2047.5M1057.27 2062.8L1059.34 2065.2M1072.11 2083.3L1074.05 2086.6M1084.15 2104.4L1086.07 2107.7M1101.59 2116.9L1103.54 2113.7M1111.57 2085.2L1112.49 2080.3M1116.59 2055.1L1117.33 2050.1M1121.54 2020.3L1122.24 2015.3M1126.85 1983.7L1127.65 1978.8M1133.73 1948.1L1134.99 1943.5M1137.94 1935.4L1139.83 1932M1155.38 1939.3L1157.31 1942.6M1167.7 1960.9L1169.63 1964.2M1183.42 1983.7L1185.49 1986M1203.12 2000.8L1205.16 2002M1225.46 2010.8L1227.42 2011.4M1253.14 2016.8L1255.06 2017M1282.68 2019.8L1284.6 2020M1313.24 2021.4L1315.15 2021.5M1344.38 2022.3L1346.29 2022.4M1375.66 2022.8L1377.57 2022.9M1406.9 2023.2L1408.82 2023.2" stroke="#000000" stroke-linecap="round"/>
</g>
<rect x="300" y="123" width="6" height="1136" fill="#000"/>
<rect x="1009" y="123" width="6" height="1136" fill="#000"/>
<rect x="300" y="123" width="715" height="6" fill="#000"/>
<rect x="300" y="1253" width="715" height="6" fill="#000"/>
<rect x="300" y="1259" width="6" height="26" fill="#000"/>
<rect x="300" y="129" width="6" height="26" fill="#000"/>
<rect x="537" y="1259" width="6" height="26" fill="#000"/>
<rect x="537" y="129" width="6" height="26" fill="#000"/>
<rect x="773" y="1259" width="6" height="26" fill="#000"/>
<rect x="773" y="129" width="6" height="26" fill="#000"/>
<rect x="1009" y="1259" width="6" height="26" fill="#000"/>
<rect x="1009" y="129" width="6" height="26" fill="#000"/>
<rect x="419" y="1259" width="6" height="12" fill="#000"/>
<rect x="419" y="129" width="6" height="12" fill="#000"/>
<rect x="655" y="1259" width="6" height="12" fill="#000"/>
<rect x="655" y="129" width="6" height="12" fill="#000"/>
<rect x="891" y="1259" width="6" height="12" fill="#000"/>
<rect x="891" y="129" width="6" height="12" fill="#000"/>
<rect x="274" y="123" width="26" height="6" fill="#000"/>
<rect x="983" y="123" width="26" height="6" fill="#000"/>
<rect x="274" y="284" width="26" height="6" fill="#000"/>
<rect x="983" y="284" width="26" height="6" fill="#000"/>
<rect x="274" y="445" width="26" height="6" fill="#000"/>
<rect x="983" y="445" width="26" height="6" fill="#000"/>
<rect x="274" y="607" width="26" height="6" fill="#000"/>
<rect x="983" y="607" width="26" height="6" fill="#000"/>
<rect x="274" y="768" width="26" height="6" fill="#000"/>
<rect x="983" y="768" width="26" height="6" fill="#000"/>
<rect x="274" y="930" width="26" height="6" fill="#000"/>
<rect x="983" y="930" width="26" height="6" fill="#000"/>
<rect x="274" y="1091" width="26" height="6" fill="#000"/>
<rect x="983" y="1091" width="26" height="6" fill="#000"/>
<rect x="274" y="1253" width="26" height="6" fill="#000"/>
<rect x="983" y="1253" width="26" height="6" fill="#000"/>
<rect x="288" y="203" width="12" height="6" fill="#000"/>
<rect x="997" y="203" width="12" height="6" fill="#000"/>
<rect x="288" y="365" width="12" height="6" fill="#000"/>
<rect x="997" y="365" width="12" height="6" fill="#000"/>
<rect x="288" y="526" width="12" height="6" fill="#000"/>
<rect x="997" y="526" width="12" height="6" fill="#000"/>
<rect x="288" y="688" width="12" height="6" fill="#000"/>
<rect x="997" y="688" width="12" height="6" fill="#000"/>
<rect x="288" y="849" width="12" height="6" fill="#000"/>
<rect x="997" y="849" width="12" height="6" fill="#000"/>
<rect x="288" y="1010" width="12" height="6" fill="#000"/>
<rect x="997" y="1010" width="12" height="6" fill="#000"/>
<rect x="288" y="1172" width="12" height="6" fill="#000"/>
<rect x="997" y="1172" width="12" height="6" fill="#000"/>
<rect x="1211" y="123" width="7" height="1136" fill="#000"/>
<rect x="1920" y="123" width="6" height="1136" fill="#000"/>
<rect x="1211" y="123" width="715" height="6" fill="#000"/>
<rect x="1211" y="1253" width="715" height="6" fill="#000"/>
<rect x="1211" y="1259" width="6" height="26" fill="#000"/>
<rect x="1211" y="129" width="6" height="26" fill="#000"/>
<rect x="1448" y="1259" width="6" height="26" fill="#000"/>
<rect x="1448" y="129" width="6" height="26" fill="#000"/>
<rect x="1684" y="1259" width="6" height="26" fill="#000"/>
<rect x="1684" y="129" width="6" height="26" fill="#000"/>
<rect x="1920" y="1259" width="6" height="26" fill="#000"/>
<rect x="1920" y="129" width="6" height="26" fill="#000"/>
<rect x="1330" y="1259" width="6" height="12" fill="#000"/>
<rect x="1330" y="129" width="6" height="12" fill="#000"/>
<rect x="1566" y="1259" width="6" height="12" fill="#000"/>
<rect x="1566" y="129" width="6" height="12" fill="#000"/>
<rect x="1803" y="1259" width="6" height="12" fill="#000"/>
<rect x="1803" y="129" width="6" height="12" fill="#000"/>
<rect x="1185" y="123" width="26" height="6" fill="#000"/>
<rect x="1894" y="123" width="26" height="6" fill="#000"/>
<rect x="1185" y="284" width="26" height="6" fill="#000"/>
<rect x="1894" y="284" width="26" height="6" fill="#000"/>
<rect x="1185" y="445" width="26" height="6" fill="#000"/>
<rect x="1894" y="445" width="26" height="6" fill="#000"/>
<rect x="1185" y="607" width="26" height="6" fill="#000"/>
<rect x="1894" y="607" width="26" height="6" fill="#000"/>
<rect x="1185" y="768" width="26" height="6" fill="#000"/>
<rect x="1894" y="768" width="26" height="6" fill="#000"/>
<rect x="1185" y="930" width="26" height="6" fill="#000"/>
<rect x="1894" y="930" width="26" height="6" fill="#000"/>
<rect x="1185" y="1091" width="26" height="6" fill="#000"/>
<rect x="1894" y="1091" width="26" height="6" fill="#000"/>
<rect x="1185" y="1253" width="26" height="6" fill="#000"/>
<rect x="1894" y="1253" width="26" height="6" fill="#000"/>
<rect x="1199" y="203" width="12" height="6" fill="#000"/>
<rect x="1908" y="203" width="12" height="6" fill="#000"/>
<rect x="1199" y="365" width="12" height="6" fill="#000"/>
<rect x="1908" y="365" width="12" height="6" fill="#000"/>
<rect x="1199" y="526" width="12" height="6" fill="#000"/>
<rect x="1908" y="526" width="12" height="6" fill="#000"/>
<rect x="1199" y="688" width="12" height="6" fill="#000"/>
<rect x="1908" y="688" width="12" height="6" fill="#000"/>
<rect x="1199" y="849" width="12" height="6" fill="#000"/>
<rect x="1908" y="849" width="12" height="6" fill="#000"/>
<rect x="1199" y="1010" width="12" height="6" fill="#000"/>
<rect x="1908" y="1010" width="12" height="6" fill="#000"/>
<rect x="1199" y="1172" width="12" height="6" fill="#000"/>
<rect x="1908" y="1172" width="12" height="6" fill="#000"/>
<rect x="300" y="1456" width="6" height="1136" fill="#000"/>
<rect x="1009" y="1456" width="6" height="1136" fill="#000"/>
<rect x="300" y="1456" width="715" height="6" fill="#000"/>
<rect x="300" y="2586" width="715" height="6" fill="#000"/>
<rect x="300" y="2592" width="6" height="26" fill="#000"/>
<rect x="300" y="1462" width="6" height="26" fill="#000"/>
<rect x="537" y="2592" width="6" height="26" fill="#000"/>
<rect x="537" y="1462" width="6" height="26" fill="#000"/>
<rect x="773" y="2592" width="6" height="26" fill="#000"/>
<rect x="773" y="1462" width="6" height="26" fill="#000"/>
<rect x="1009" y="2592" width="6" height="26" fill="#000"/>
<rect x="1009" y="1462" width="6" height="26" fill="#000"/>
<rect x="419" y="2592" width="6" height="12" fill="#000"/>
<rect x="419" y="1462" width="6" height="12" fill="#000"/>
<rect x="655" y="2592" width="6" height="12" fill="#000"/>
<rect x="655" y="1462" width="6" height="12" fill="#000"/>
<rect x="891" y="2592" width="6" height="12" fill="#000"/>
<rect x="891" y="1462" width="6" height="12" fill="#000"/>
<rect x="274" y="1456" width="26" height="6" fill="#000"/>
<rect x="983" y="1456" width="26" height="6" fill="#000"/>
<rect x="274" y="1644" width="26" height="6" fill="#000"/>
<rect x="983" y="1644" width="26" height="6" fill="#000"/>
<rect x="274" y="1832" width="26" height="6" fill="#000"/>
<rect x="983" y="1832" width="26" height="6" fill="#000"/>
<rect x="274" y="2021" width="26" height="6" fill="#000"/>
<rect x="983" y="2021" width="26" height="6" fill="#000"/>
<rect x="274" y="2209" width="26" height="6" fill="#000"/>
<rect x="983" y="2209" width="26" height="6" fill="#000"/>
<rect x="274" y="2397" width="26" height="6" fill="#000"/>
<rect x="983" y="2397" width="26" height="6" fill="#000"/>
<rect x="274" y="2586" width="26" height="6" fill="#000"/>
<rect x="983" y="2586" width="26" height="6" fill="#000"/>
<rect x="288" y="1550" width="12" height="6" fill="#000"/>
<rect x="997" y="1550" width="12" height="6" fill="#000"/>
<rect x="288" y="1738" width="12" height="6" fill="#000"/>
<rect x="997" y="1738" width="12" height="6" fill="#000"/>
<rect x="288" y="1926" width="12" height="6" fill="#000"/>
<rect x="997" y="1926" width="12" height="6" fill="#000"/>
<rect x="288" y="2115" width="12" height="6" fill="#000"/>
<rect x="997" y="2115" width="12" height="6" fill="#000"/>
<rect x="288" y="2303" width="12" height="6" fill="#000"/>
<rect x="997" y="2303" width="12" height="6" fill="#000"/>
<rect x="288" y="2491" width="12" height="6" fill="#000"/>
<rect x="997" y="2491" width="12" height="6" fill="#000"/>
<rect x="1211" y="1456" width="7" height="1136" fill="#000"/>
<rect x="1920" y="1456" width="6" height="1136" fill="#000"/>
<rect x="1211" y="1456" width="715" height="6" fill="#000"/>
<rect x="1211" y="2586" width="715" height="6" fill="#000"/>
<rect x="1211" y="2592" width="6" height="26" fill="#000"/>
<rect x="1211" y="1462" width="6" height="26" fill="#000"/>
<rect x="1448" y="2592" width="6" height="26" fill="#000"/>
<rect x="1448" y="1462" width="6" height="26" fill="#000"/>
<rect x="1684" y="2592" width="6" height="26" fill="#000"/>
<rect x="1684" y="1462" width="6" height="26" fill="#000"/>
<rect x="1920" y="2592" width="6" height="26" fill="#000"/>
<rect x="1920" y="1462" width="6" height="26" fill="#000"/>
<rect x="1330" y="2592" width="6" height="12" fill="#000"/>
<rect x="1330" y="1462" width="6" height="12" fill="#000"/>
<rect x="1566" y="2592" width="6" height="12" fill="#000"/>
<rect x="1566" y="1462" width="6" height="12" fill="#000"/>
<rect x="1803" y="2592" width="6" height="12" fill="#000"/>
<rect x="1803" y="1462" width="6" height="12" fill="#000"/>
<rect x="1185" y="1456" width="26" height="6" fill="#000"/>
<rect x="1894" y="1456" width="26" height="6" fill="#000"/>
<rect x="1185" y="1644" width="26" height="6" fill="#000"/>
<rect x="1894" y="1644" width="26" height="6" fill="#000"/>
<rect x="1185" y="1832" width="26" height="6" fill="#000"/>
<rect x="1894" y="1832" width="26" height="6" fill="#000"/>
<rect x="1185" y="2021" width="26" height="6" fill="#000"/>
<rect x="1894" y="2021" width="26" height="6" fill="#000"/>
<rect x="1185" y="2209" width="26" height="6" fill="#000"/>
<rect x="1894" y="2209" width="26" height="6" fill="#000"/>
<rect x="1185" y="2397" width="26" height="6" fill="#000"/>
<rect x="1894" y="2397" width="26" height="6" fill="#000"/>
<rect x="1185" y="2586" width="26" height="6" fill="#000"/>
<rect x="1894" y="2586" width="26" height="6" fill="#000"/>
<rect x="1199" y="1550" width="12" height="6" fill="#000"/>
<rect x="1908" y="1550" width="12" height="6" fill="#000"/>
<rect x="1199" y="1738" width="12" height="6" fill="#000"/>
<rect x="1908" y="1738" width="12" height="6" fill="#000"/>
<rect x="1199" y="1926" width="12" height="6" fill="#000"/>
<rect x="1908" y="1926" width="12" height="6" fill="#000"/>
<rect x="1199" y="2115" width="12" height="6" fill="#000"/>
<rect x="1908" y="2115" width="12" height="6" fill="#000"/>
<rect x="1199" y="2303" width="12" height="6" fill="#000"/>
<rect x="1908" y="2303" width="12" height="6" fill="#000"/>
<rect x="1199" y="2491" width="12" height="6" fill="#000"/>
<rect x="1908" y="2491" width="12" height="6" fill="#000"/>
<g font-family="&quot;Liberation Sans&quot;,Arial,Helvetica,sans-serif" font-weight="bold" stroke-width="0.6" stroke-linejoin="round">
<text transform="translate(255,144) scale(1,1.035)" font-size="64" text-anchor="end" stroke="#000">2.5</text>
<text transform="translate(255,305) scale(1,1.035)" font-size="64" text-anchor="end" stroke="#000">2.0</text>
<text transform="translate(255,466) scale(1,1.035)" font-size="64" text-anchor="end" stroke="#000">1.5</text>
<text transform="translate(255,628) scale(1,1.035)" font-size="64" text-anchor="end" stroke="#000">1.0</text>
<text transform="translate(255,789) scale(1,1.035)" font-size="64" text-anchor="end" stroke="#000">0.5</text>
<text transform="translate(255,951) scale(1,1.035)" font-size="64" text-anchor="end" stroke="#000">0.0</text>
<text transform="translate(255,1112) scale(1,1.035)" font-size="64" text-anchor="end" stroke="#000">-0.5</text>
<text transform="translate(255,1274) scale(1,1.035)" font-size="64" text-anchor="end" stroke="#000">-1.0</text>
<text transform="translate(303,1353) scale(1,1.035)" font-size="64" text-anchor="middle" stroke="#000">3</text>
<text transform="translate(540,1353) scale(1,1.035)" font-size="64" text-anchor="middle" stroke="#000">6</text>
<text transform="translate(776,1353) scale(1,1.035)" font-size="64" text-anchor="middle" stroke="#000">9</text>
<text transform="translate(1012,1353) scale(1,1.035)" font-size="64" text-anchor="middle" stroke="#000">12</text>
<text transform="translate(1166,144) scale(1,1.035)" font-size="64" text-anchor="end" stroke="#000">2.5</text>
<text transform="translate(1166,305) scale(1,1.035)" font-size="64" text-anchor="end" stroke="#000">2.0</text>
<text transform="translate(1166,466) scale(1,1.035)" font-size="64" text-anchor="end" stroke="#000">1.5</text>
<text transform="translate(1166,628) scale(1,1.035)" font-size="64" text-anchor="end" stroke="#000">1.0</text>
<text transform="translate(1166,789) scale(1,1.035)" font-size="64" text-anchor="end" stroke="#000">0.5</text>
<text transform="translate(1166,951) scale(1,1.035)" font-size="64" text-anchor="end" stroke="#000">0.0</text>
<text transform="translate(1166,1112) scale(1,1.035)" font-size="64" text-anchor="end" stroke="#000">-0.5</text>
<text transform="translate(1166,1274) scale(1,1.035)" font-size="64" text-anchor="end" stroke="#000">-1.0</text>
<text transform="translate(1215,1353) scale(1,1.035)" font-size="64" text-anchor="middle" stroke="#000">3</text>
<text transform="translate(1451,1353) scale(1,1.035)" font-size="64" text-anchor="middle" stroke="#000">6</text>
<text transform="translate(1687,1353) scale(1,1.035)" font-size="64" text-anchor="middle" stroke="#000">9</text>
<text transform="translate(1923,1353) scale(1,1.035)" font-size="64" text-anchor="middle" stroke="#000">12</text>
<text transform="translate(255,1477) scale(1,1.035)" font-size="64" text-anchor="end" stroke="#000">0.6</text>
<text transform="translate(255,1665) scale(1,1.035)" font-size="64" text-anchor="end" stroke="#000">0.4</text>
<text transform="translate(255,1853) scale(1,1.035)" font-size="64" text-anchor="end" stroke="#000">0.2</text>
<text transform="translate(255,2042) scale(1,1.035)" font-size="64" text-anchor="end" stroke="#000">0.0</text>
<text transform="translate(255,2230) scale(1,1.035)" font-size="64" text-anchor="end" stroke="#000">-0.2</text>
<text transform="translate(255,2418) scale(1,1.035)" font-size="64" text-anchor="end" stroke="#000">-0.4</text>
<text transform="translate(255,2607) scale(1,1.035)" font-size="64" text-anchor="end" stroke="#000">-0.6</text>
<text transform="translate(303,2687) scale(1,1.035)" font-size="64" text-anchor="middle" stroke="#000">3</text>
<text transform="translate(540,2687) scale(1,1.035)" font-size="64" text-anchor="middle" stroke="#000">6</text>
<text transform="translate(776,2687) scale(1,1.035)" font-size="64" text-anchor="middle" stroke="#000">9</text>
<text transform="translate(1012,2687) scale(1,1.035)" font-size="64" text-anchor="middle" stroke="#000">12</text>
<text transform="translate(1166,1477) scale(1,1.035)" font-size="64" text-anchor="end" stroke="#000">0.6</text>
<text transform="translate(1166,1665) scale(1,1.035)" font-size="64" text-anchor="end" stroke="#000">0.4</text>
<text transform="translate(1166,1853) scale(1,1.035)" font-size="64" text-anchor="end" stroke="#000">0.2</text>
<text transform="translate(1166,2042) scale(1,1.035)" font-size="64" text-anchor="end" stroke="#000">0.0</text>
<text transform="translate(1166,2230) scale(1,1.035)" font-size="64" text-anchor="end" stroke="#000">-0.2</text>
<text transform="translate(1166,2418) scale(1,1.035)" font-size="64" text-anchor="end" stroke="#000">-0.4</text>
<text transform="translate(1166,2607) scale(1,1.035)" font-size="64" text-anchor="end" stroke="#000">-0.6</text>
<text transform="translate(1215,2687) scale(1,1.035)" font-size="64" text-anchor="middle" stroke="#000">3</text>
<text transform="translate(1451,2687) scale(1,1.035)" font-size="64" text-anchor="middle" stroke="#000">6</text>
<text transform="translate(1687,2687) scale(1,1.035)" font-size="64" text-anchor="middle" stroke="#000">9</text>
<text transform="translate(1923,2687) scale(1,1.035)" font-size="64" text-anchor="middle" stroke="#000">12</text>
<text x="313.5" y="88.5" font-size="64" text-anchor="start" fill="#ff0000" stroke="#ff0000" >Red - B = 0 T</text>
<text x="870.5" y="82" font-size="64" text-anchor="start" fill="#0000ff" stroke="#0000ff" >Blue - B = 20 T</text>
<text x="1443" y="77.5" font-size="64" text-anchor="start" fill="#000" stroke="#000" >Black - B = 30 T</text>
<text x="659" y="2812.2" font-size="77.5" text-anchor="middle" fill="#000" stroke="#000" >photon energy (meV)</text>
<text x="1570.4" y="2812.2" font-size="77.5" text-anchor="middle" fill="#000" stroke="#000" >photon energy (meV)</text>
<text transform="translate(111.8,689.9) rotate(-90)" font-size="77.5" text-anchor="middle" fill="#000" stroke="#000">absorp. coeff. (10<tspan dy="-30.5">5</tspan><tspan dy="30.5"> m</tspan><tspan dy="-30.5">-1</tspan><tspan dy="30.5">)</tspan></text>
<text transform="translate(112.2,2022) rotate(-90)" font-size="77.5" text-anchor="middle" fill="#000" stroke="#000">refraction index coeff.</text>
<text x="321" y="231" font-size="77.5" text-anchor="start" fill="#000" stroke="#000" >(a)</text>
<text x="1801" y="220" font-size="77.5" text-anchor="start" fill="#000" stroke="#000" >(b)</text>
<text x="320" y="1560" font-size="77.5" text-anchor="start" fill="#000" stroke="#000" >(c)</text>
<text x="1801" y="1552.3" font-size="77.5" text-anchor="start" fill="#000" stroke="#000" >(d)</text>
<text x="1230.5" y="210.2" font-size="57" text-anchor="start" stroke="#000">Solid</text>
<text x="1387" y="210.2" font-size="57" text-anchor="start" stroke="#000">-</text>
<text transform="translate(1420.3,210.2) scale(1.22,1.0)" font-family="&quot;Liberation Serif&quot;,&quot;Times New Roman&quot;,serif" font-weight="normal" font-size="57" stroke="#000" stroke-width="0.6">α</text>
<text x="1230.5" y="293" font-size="57" text-anchor="start" stroke="#000">Dash</text>
<text x="1385" y="293" font-size="57" text-anchor="start" stroke="#000">-</text>
<text transform="translate(1419.3,293) scale(1.22,1.0)" font-family="&quot;Liberation Serif&quot;,&quot;Times New Roman&quot;,serif" font-weight="normal" font-size="57" stroke="#000" stroke-width="0.6">α</text>
<text transform="translate(1455.5,271) scale(1.0,1)" font-family="&quot;Liberation Serif&quot;,&quot;Times New Roman&quot;,serif" font-weight="normal" font-size="41">(1)</text>
<text x="1230.5" y="377.2" font-size="57" text-anchor="start" stroke="#000">Dot</text>
<text x="1390.2" y="377.2" font-size="57" text-anchor="start" stroke="#000">-</text>
<text transform="translate(1423.3,377.2) scale(1.22,1.0)" font-family="&quot;Liberation Serif&quot;,&quot;Times New Roman&quot;,serif" font-weight="normal" font-size="57" stroke="#000" stroke-width="0.6">α</text>
<text transform="translate(1459.5,355.2) scale(1.0,1)" font-family="&quot;Liberation Serif&quot;,&quot;Times New Roman&quot;,serif" font-weight="normal" font-size="41">(3)</text>
<text x="700.5" y="1557.8" font-size="57" text-anchor="start" stroke="#000">Solid</text>
<text x="857.5" y="1557.8" font-size="57" text-anchor="start" stroke="#000">-</text>
<text transform="translate(889,1557.8) scale(1.03,1.0)" font-family="&quot;Liberation Serif&quot;,&quot;Times New Roman&quot;,serif" font-weight="normal" font-size="57" stroke="#000" stroke-width="0.5">Δ</text>
<text x="926.5" y="1557.8" font-size="57" text-anchor="start" stroke="#000">n</text>
<text x="700.5" y="1642" font-size="57" text-anchor="start" stroke="#000">Dash</text>
<text x="855.5" y="1642" font-size="57" text-anchor="start" stroke="#000">-</text>
<text transform="translate(887,1642) scale(1.03,1.0)" font-family="&quot;Liberation Serif&quot;,&quot;Times New Roman&quot;,serif" font-weight="normal" font-size="57" stroke="#000" stroke-width="0.5">Δ</text>
<text x="924.5" y="1642" font-size="57" text-anchor="start" stroke="#000">n</text>
<text transform="translate(959,1619) scale(1.0,1)" font-family="&quot;Liberation Serif&quot;,&quot;Times New Roman&quot;,serif" font-weight="normal" font-size="41">(1)</text>
<text x="700.5" y="1725.7" font-size="57" text-anchor="start" stroke="#000">Dot</text>
<text x="860.5" y="1725.7" font-size="57" text-anchor="start" stroke="#000">-</text>
<text transform="translate(892,1725.7) scale(1.03,1.0)" font-family="&quot;Liberation Serif&quot;,&quot;Times New Roman&quot;,serif" font-weight="normal" font-size="57" stroke="#000" stroke-width="0.5">Δ</text>
<text x="929.5" y="1725.7" font-size="57" text-anchor="start" stroke="#000">n</text>
<text transform="translate(963,1702.7) scale(1.0,1)" font-family="&quot;Liberation Serif&quot;,&quot;Times New Roman&quot;,serif" font-weight="normal" font-size="41">(3)</text>
</g>
</svg>
</body></html>
